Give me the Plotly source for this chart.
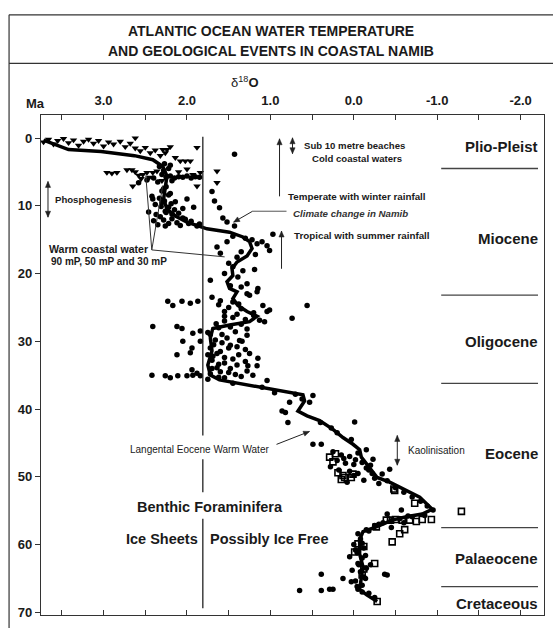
import math
import plotly.graph_objects as go

# ---------------- data (delta18O in per mil, age in Ma) ----------------
curve_d18o = [3.72, 3.42, 3.03, 2.63, 2.41, 2.29, 2.24, 2.26, 2.28, 2.24, 2.14, 2.00, 1.84, 1.76,
              1.49, 1.33, 1.25, 1.22, 1.28, 1.40, 1.46, 1.45, 1.52, 1.49, 1.40, 1.45, 1.39, 1.28,
              1.16, 1.25, 1.49, 1.69, 1.72, 1.70, 1.75, 1.72, 1.61, 1.28, 0.89, 0.61, 0.59, 0.67,
              0.56, 0.41, 0.25, 0.13, 0.01, -0.07, -0.09, -0.19, -0.28, -0.43, -0.63, -0.79, -0.94,
              -0.82, -0.63, -0.46, -0.27, -0.11, -0.07, -0.07, -0.11, -0.09, -0.07, -0.15, -0.28]
curve_age = [0.3, 1.7, 2.0, 2.6, 3.2, 4.2, 5.6, 7.6, 9.0, 10.5, 11.5, 12.4, 13.1, 13.4,
             13.9, 14.6, 15.3, 16.3, 17.4, 18.3, 19.3, 20.3, 21.2, 22.2, 22.7, 23.7, 24.7, 25.6,
             26.3, 27.1, 27.6, 28.1, 29.5, 31.4, 33.5, 35.0, 35.7, 36.4, 37.2, 37.9, 38.8, 40.3,
             41.0, 41.7, 43.0, 44.2, 45.2, 46.0, 47.1, 48.6, 50.1, 50.8, 52.0, 53.0, 54.8,
             55.5, 55.9, 56.4, 57.4, 58.1, 59.3, 61.4, 63.3, 65.2, 66.6, 67.4, 68.4]

tri_d18o = [3.72, 3.66, 3.60, 3.55, 3.48, 3.42, 3.36, 3.30, 3.24, 3.18, 3.12, 3.06, 3.00, 2.94,
            2.88, 2.80, 2.74, 2.68, 2.62, 2.62, 2.56, 2.50, 2.44, 2.38, 2.32, 2.26, 2.20, 2.14,
            2.08, 2.02, 1.96, 2.29, 2.24, 1.88,
            2.96, 2.90, 2.84, 2.72, 2.66, 2.62, 2.58, 2.53, 2.48, 2.41, 2.36, 2.65, 1.84, 1.93,
            1.64, 1.64, 1.88, 2.55, 2.30, 2.10, 2.00, 2.45]
tri_age = [0.6, 0.2, 0.9, 0.4, 0.1, 0.7, 0.3, 1.1, 0.5, 0.2, 0.8, 0.4, 1.2, 0.6,
           0.9, 0.5, 1.3, 0.8, 0.0, 1.5, 1.9, 1.4, 2.2, 1.8, 2.6, 2.2, 1.3, 2.9,
           3.4, 3.4, 3.4, 1.7, 1.7, 1.4,
           5.1, 5.2, 5.1, 4.7, 4.7, 5.0, 5.5, 5.4, 5.1, 5.1, 4.9, 7.1, 5.1, 5.4,
           4.9, 6.6, 7.1, 6.0, 6.3, 5.0, 4.6, 5.8]

dot_d18o = [2.30, 2.25, 2.20, 2.15, 2.10, 2.05, 2.00, 1.95, 1.90, 1.85, 2.28, 2.22, 2.18, 2.35,
            2.40, 2.48, 2.58, 2.33, 2.27, 2.20,
            2.42, 2.41, 2.38, 2.30, 2.22, 2.15, 2.05, 2.25, 2.32, 2.40, 2.26, 2.12, 2.05, 1.98,
            1.92, 2.00, 2.20, 2.28, 2.35, 2.18, 1.88, 1.85,
            2.25, 2.30, 2.22, 2.33, 2.27, 2.19, 2.31, 2.26, 2.18, 2.10, 2.02, 1.95, 2.08, 2.22,
            2.28, 2.37, 2.14, 2.46,
            1.67, 1.61, 1.57, 1.43, 1.43, 1.70, 1.52,
            0.97, 1.52, 1.64, 1.16, 1.04, 1.01, 1.33, 1.19, 1.72, 1.39, 1.25, 1.15, 1.30, 1.22,
            1.35, 1.40, 1.50, 1.45, 1.55, 1.48, 1.35, 1.28, 1.60, 1.18, 1.10, 1.45,
            2.23, 2.17, 2.06, 1.96, 1.87, 2.41, 2.12, 2.06, 1.93, 1.84, 2.05, 1.84, 1.94, 2.12,
            1.96, 1.94, 1.88, 2.42, 2.26, 2.20, 2.11, 2.00, 1.93, 1.84,
            1.28, 1.16, 1.09, 1.04, 1.07, 1.37, 1.28, 1.15, 1.16, 1.28, 1.21, 1.52, 1.69, 1.64,
            1.01, 0.56, 0.74, 1.13, 1.28, 1.34, 1.27, 1.04,
            1.60, 1.50, 1.40, 1.30, 1.55, 1.62, 1.75, 1.58, 1.68, 1.50, 1.60, 1.75, 1.45, 1.55,
            1.40, 1.70, 1.50, 1.35, 1.62, 1.75, 1.45, 1.35, 1.20, 1.42, 1.30, 1.38, 1.45,
            1.70, 1.62, 1.55, 1.45, 1.35, 1.48, 1.65, 1.72, 1.66, 1.58, 1.48, 1.72, 1.64, 1.55,
            1.70, 1.62, 1.48, 1.60, 1.72, 1.42, 1.55, 1.30, 1.25, 1.40, 1.55, 1.38, 1.20,
            0.49, 0.53, 0.77, 0.86, 0.82, 0.79, -0.01, 0.27, 0.49, 0.39, 0.03, -0.15, -0.23, -0.43,
            1.10, 0.95, 0.70, 0.62, 0.40, 0.20,
            0.25, 0.15, 0.05, -0.05, 0.20, 0.10, 0.00, -0.10, 0.28, 0.18, 0.05, -0.05, -0.18,
            -0.25, -0.12, 0.08, -0.30, -0.40, -0.34, -0.20,
            -0.02, 0.12, -0.15, 0.00, -0.22,
            -0.50, -0.60, -0.70, -0.80, -0.88, -0.95, -0.57, -0.85, -0.70, -0.55, -0.45, -0.35,
            -0.25, -0.15, -0.05, -0.45, -0.60, -0.08, 0.00, -0.12, -0.04, -0.10, -0.05, -0.15,
            -0.08, -0.12, -0.02, -0.10, -0.05, -0.18, -0.25, 0.39, 0.13, 0.29, 0.25, 0.39, 0.65,
            0.03, -0.37, -0.40, -0.20, 0.05,
            -0.10, -0.02, -0.14, -0.06, 0.02, -0.14, -0.04, -0.10, -0.30, -0.18, -0.40, -0.65]
dot_age = [5.4, 5.8, 5.6, 5.9, 5.7, 5.8, 5.6, 5.9, 5.7, 5.8, 4.8, 4.5, 6.3, 6.5,
           5.9, 6.2, 6.6, 4.2, 3.8, 4.0,
           8.6, 9.0, 9.8, 9.5, 10.2, 10.6, 10.4, 11.0, 11.6, 12.2, 13.0, 12.5, 11.8, 12.6,
           10.2, 9.0, 8.2, 7.5, 12.8, 11.9, 13.0, 12.7,
           7.2, 7.8, 8.4, 8.9, 9.3, 9.7, 10.1, 10.8, 11.2, 11.1, 12.0, 12.3, 12.9, 12.6,
           12.1, 11.3, 9.4, 10.9,
           9.3, 10.3, 11.8, 13.0, 2.4, 7.9, 12.4,
           14.2, 15.3, 16.1, 15.6, 15.9, 16.6, 19.6, 19.4, 21.0, 20.5, 23.2, 22.2, 14.8, 15.0,
           16.8, 17.6, 18.5, 19.0, 20.0, 21.8, 22.0, 21.5, 17.0, 17.2, 15.3, 14.5,
           24.1, 24.7, 24.1, 24.4, 24.1, 27.8, 27.8, 28.1, 28.8, 28.5, 30.0, 30.0, 31.0, 32.0,
           31.7, 34.2, 34.7, 35.0, 35.1, 35.4, 35.1, 35.1, 35.0, 35.1,
           23.0, 22.7, 24.7, 25.6, 27.1, 29.9, 28.2, 32.5, 33.6, 34.4, 35.0, 29.5, 32.2, 33.9,
           25.4, 24.7, 26.6, 26.9, 29.1, 30.0, 33.6, 35.8,
           24.0, 25.0, 26.0, 26.8, 27.0, 28.0, 28.7, 29.0, 30.5, 31.0, 31.5, 32.0, 32.6, 33.2,
           33.5, 34.0, 34.6, 35.2, 35.3, 35.6, 24.2, 25.2, 26.2, 28.6, 31.2, 32.0, 36.2,
           23.5, 24.6, 25.6, 26.5, 27.5, 27.9, 27.4, 29.0, 29.8, 30.2, 30.6, 31.0, 31.8, 32.4,
           32.8, 33.4, 34.0, 34.5, 34.8, 34.9, 35.4, 33.0, 31.8, 30.8, 26.3, 24.5, 25.8,
           38.0, 39.0, 39.0, 40.3, 40.5, 42.0, 41.9, 42.8, 45.2, 45.2, 44.5, 46.0, 47.4, 48.9,
           36.8, 37.6, 37.8, 38.5, 42.0, 43.5,
           46.3, 46.8, 47.0, 46.5, 47.6, 48.0, 48.2, 47.9, 48.5, 49.0, 49.2, 49.5, 49.0,
           50.2, 50.5, 50.8, 51.0, 50.6, 49.6, 48.3,
           47.5, 47.3, 48.7, 49.8, 49.5,
           51.6, 52.3, 53.0, 53.6, 54.3, 54.9, 54.9, 55.7, 55.9, 56.2, 56.5, 56.8,
           57.2, 57.8, 58.4, 57.5, 56.8, 59.2, 60.0, 60.5, 61.2, 62.0, 62.8, 63.5,
           64.0, 64.8, 65.4, 66.0, 66.6, 67.2, 67.8, 64.4, 65.0, 66.6, 66.6, 66.8, 66.8,
           65.5, 64.4, 64.5, 63.0, 61.8,
           59.8, 60.8, 61.6, 63.0, 63.8, 65.0, 66.2, 67.0, 57.0, 58.0, 55.5, 55.8]

sq_d18o = [0.29, 0.25, 0.13, 0.01, 0.19, 0.11, 0.03, 0.15, -0.49, -0.73, -0.93, -0.82, -0.75,
           -0.67, -0.58, -0.50, -0.44, -0.39, -0.27, -0.61, -0.55, -0.46, -0.01, -0.05, -0.12,
           -0.25, -0.12, -0.10, -0.28, -1.29, -0.48, 0.22]
sq_age = [47.1, 47.8, 49.8, 49.6, 49.4, 50.1, 50.1, 50.4, 52.0, 53.9, 56.3, 56.3, 56.6,
          56.4, 56.4, 56.3, 56.4, 56.4, 57.4, 57.8, 58.4, 59.6, 61.1, 59.9, 60.3,
          62.8, 63.6, 64.5, 68.4, 55.1, 51.8, 46.6]

x_tick_vals = [3.0, 2.0, 1.0, 0.0, -1.0, -2.0]
x_tick_text = ["3.0", "2.0", "1.0", "0.0", "-1.0", "-2.0"]
y_tick_vals = [0, 10, 20, 30, 40, 50, 60, 70]

epochs = ["Plio-Pleist", "Miocene", "Oligocene", "Eocene", "Palaeocene", "Cretaceous"]
epoch_label_age = [1.2, 14.9, 30.1, 46.6, 62.1, 68.7]
epoch_bounds = [4.5, 23.2, 36.2, 57.5, 66.2]
ice_boundary = 1.81

# ---------------- geometry helpers (page pixel -> axis / paper) ----------------
W, H = 553, 628
L, R, T, B = 41, 545, 115, 619   # plot area in page pixels
XR = [3.75, -2.28]
YR = [70.4, -3.4]


def X(px):
    return XR[0] + (px - L) / (R - L) * (XR[1] - XR[0])


def Y(py):
    return YR[1] + (py - T) / (B - T) * (YR[0] - YR[1])


def PX(px):
    return (px - L) / (R - L)


def PY(py):
    return 1 - (py - T) / (B - T)


FONT = "Liberation Sans, Arial, sans-serif"
INK = "#1a1a1a"

fig = go.Figure()
fig.add_trace(go.Scatter(x=dot_d18o, y=dot_age, mode="markers",
                         marker=dict(symbol="circle", size=5.5, color="black"), showlegend=False))
fig.add_trace(go.Scatter(x=tri_d18o, y=tri_age, mode="markers",
                         marker=dict(symbol="triangle-down", size=6.5, color="black"), showlegend=False))
fig.add_trace(go.Scatter(x=sq_d18o, y=sq_age, mode="markers",
                         marker=dict(symbol="square-open", size=6, color="black", line=dict(width=1.6)),
                         showlegend=False))
fig.add_trace(go.Scatter(x=curve_d18o, y=curve_age, mode="lines",
                         line=dict(color="black", width=3.5), showlegend=False))

shapes = []
# outer frame and title box
shapes.append(dict(type="line", xref="paper", yref="paper", x0=PX(9), x1=PX(9), y0=PY(14), y1=PY(640),
                   line=dict(color="#333", width=1.2)))
shapes.append(dict(type="line", xref="paper", yref="paper", x0=PX(9), x1=PX(560), y0=PY(14), y1=PY(14),
                   line=dict(color="#333", width=1.2)))
shapes.append(dict(type="line", xref="paper", yref="paper", x0=PX(9), x1=PX(560), y0=PY(63), y1=PY(63),
                   line=dict(color="#333", width=1.2)))

# ice boundary vertical line (broken around labels)
for a, b in [(-0.2, 43.9), (47.4, 52.3), (56.2, 69.4)]:
    shapes.append(dict(type="line", xref="x", yref="y", x0=ice_boundary, x1=ice_boundary, y0=a, y1=b,
                       line=dict(color="#222", width=1.3)))

# epoch boundary lines
for eb in epoch_bounds:
    shapes.append(dict(type="line", xref="x", yref="y", x0=X(442), x1=X(539), y0=eb, y1=eb,
                       line=dict(color="#444", width=1.3)))


def seg(px0, py0, px1, py1, color="#333", width=1):
    shapes.append(dict(type="line", xref="x", yref="y", x0=X(px0), y0=Y(py0), x1=X(px1), y1=Y(py1),
                       line=dict(color=color, width=width)))


def head(px_tip, py_tip, px_from, py_from, length=6, half=2.6):
    dx, dy = px_tip - px_from, py_tip - py_from
    n = math.hypot(dx, dy)
    ux, uy = dx / n, dy / n
    bx, by = px_tip - ux * length, py_tip - uy * length
    p1 = (bx - uy * half, by + ux * half)
    p2 = (bx + uy * half, by - ux * half)
    path = "M %f %f L %f %f L %f %f Z" % (X(px_tip), Y(py_tip), X(p1[0]), Y(p1[1]), X(p2[0]), Y(p2[1]))
    shapes.append(dict(type="path", xref="x", yref="y", path=path,
                       fillcolor="#222", line=dict(color="#222", width=0.5)))


def arrow(px0, py0, px1, py1, both=False):
    seg(px0, py0, px1, py1, color="#222")
    head(px1, py1, px0, py0)
    if both:
        head(px0, py0, px1, py1)


# warm coastal water pointer lines
for (x1, y1) in [(146, 176), (163, 186), (225, 258)]:
    seg(152, 251, x1, y1)
# climate change pointer horizontal part
seg(287, 212, 253, 212, color="#555")

annotations = []


def txt(px, py, s, size=10, anchor="left", color=INK, font=FONT):
    annotations.append(dict(x=X(px), y=Y(py), xref="x", yref="y", text=s, showarrow=False,
                            xanchor=anchor, yanchor="middle", font=dict(size=size, color=color, family=font)))


# titles (paper)
for py, s in [(30, "<b>ATLANTIC OCEAN WATER TEMPERATURE</b>"), (50, "<b>AND GEOLOGICAL EVENTS IN COASTAL NAMIB</b>")]:
    annotations.append(dict(x=PX(271), y=PY(py), xref="paper", yref="paper", text=s, showarrow=False,
                            xanchor="center", yanchor="middle", font=dict(size=14, color=INK, family=FONT)))
annotations.append(dict(x=PX(245), y=PY(82), xref="paper", yref="paper",
                        text="δ<sup>18</sup><b>O</b>", showarrow=False, xanchor="center", yanchor="middle",
                        font=dict(size=13, color=INK, family=FONT)))
annotations.append(dict(x=PX(35), y=PY(103), xref="paper", yref="paper", text="<b>Ma</b>", showarrow=False,
                        xanchor="center", yanchor="middle", font=dict(size=13, color=INK, family=FONT)))

# epoch labels
for name, age in zip(epochs, epoch_label_age):
    annotations.append(dict(x=X(541), y=age, xref="x", yref="y", text="<b>%s</b>" % name, showarrow=False,
                            xanchor="right", yanchor="middle", font=dict(size=15, color=INK, family=FONT)))

# event annotations
txt(303, 146, "<b>Sub 10 metre beaches</b>", 9.6)
txt(311, 159, "<b>Cold coastal waters</b>", 9.6)
arrow(293, 154, 293, 138, both=True)
arrow(280, 197, 280, 139)
txt(286, 197, "<b>Temperate with winter rainfall</b>", 9.8)
txt(291, 214, "<b><i>Climate change in Namib</i></b>", 9.7, color="#333")
arrow(253, 212, 234, 223)
arrow(282, 270, 282, 232)
txt(292, 236, "<b>Tropical with summer rainfall</b>", 9.8)
arrow(48, 218, 48, 182, both=True)
txt(53, 200, "<b>Phosphogenesis</b>", 9.6)
txt(47, 250, "<b>Warm coastal water</b>", 10.6)
txt(49, 263, "<b>90 mP, 50 mP and 30 mP</b>", 10)
txt(200, 452, "Langental Eocene Warm Water", 10, anchor="center")
arrow(277, 447, 310, 434)
arrow(398, 468, 398, 438, both=True)
txt(407, 453, "Kaolinisation", 10)
txt(210, 510, "<b>Benthic Foraminifera</b>", 14.5, anchor="center")
txt(200, 542, "<b>Ice Sheets</b>", 14.5, anchor="right")
txt(208, 542, "<b>Possibly Ice Free</b>", 14.5, anchor="left")

fig.update_layout(
    width=W, height=H,
    margin=dict(l=L, r=W - R, t=T, b=H - B, pad=0),
    paper_bgcolor="white", plot_bgcolor="white",
    shapes=shapes, annotations=annotations,
    xaxis=dict(range=XR, side="top", tickvals=x_tick_vals, ticktext=["<b>%s</b>" % t for t in x_tick_text],
               ticks="inside", ticklen=5, tickwidth=1, tickcolor="#333",
               minor=dict(dtick=0.5, tick0=0, ticks="inside", ticklen=5, tickwidth=1, tickcolor="#333"),
               showline=True, linecolor="#333", linewidth=1.2, mirror="ticks",
               showgrid=False, zeroline=False,
               tickfont=dict(size=13, color=INK, family=FONT), ticklabelstandoff=4),
    yaxis=dict(range=YR, tickvals=y_tick_vals, ticktext=["<b>%d</b>" % v for v in y_tick_vals],
               ticks="outside", ticklen=5, tickwidth=1, tickcolor="#333",
               showline=True, linecolor="#333", linewidth=1.2, mirror=True,
               showgrid=False, zeroline=False,
               tickfont=dict(size=13, color=INK, family=FONT)),
)

fig.write_html("out.html", config={"displayModeBar": False},
               post_script="document.body.style.margin='0px';document.body.style.overflow='hidden';")
